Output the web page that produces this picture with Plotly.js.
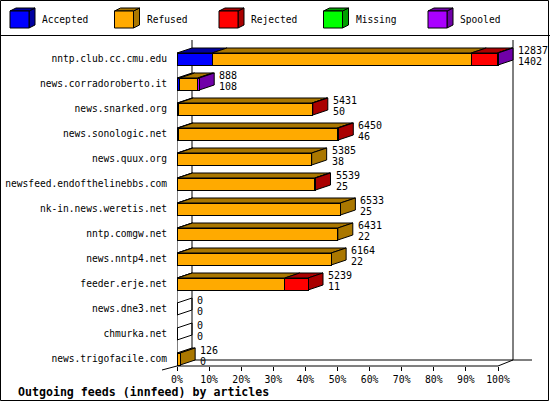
<!DOCTYPE html>
<html>
<head>
<meta charset="utf-8">
<script src="https://cdn.plot.ly/plotly-3.0.1.min.js"></script>
<style>html,body{margin:0;padding:0;background:#fff;}#chart{width:550px;height:405px;}</style>
</head>
<body>
<div id="chart"></div>
<script>
// ---- data ----
const hosts = ['nntp.club.cc.cmu.edu','news.corradoroberto.it','news.snarked.org','news.sonologic.net','news.quux.org','newsfeed.endofthelinebbs.com','nk-in.news.weretis.net','nntp.comgw.net','news.nntp4.net','feeder.erje.net','news.dne3.net','chmurka.net','news.trigofacile.com'];
const offered  = [12837, 888, 5431, 6450, 5385, 5539, 6533, 6431, 6164, 5239, 0, 0, 126];
const accepted = [1402, 108, 50, 46, 38, 25, 25, 22, 22, 11, 0, 0, 0];
const refused  = [10365, 720, 5351, 6364, 5347, 5484, 6508, 6409, 6142, 4298, 0, 0, 126];
const rejected = [1040, 0, 30, 40, 0, 30, 0, 0, 0, 930, 0, 0, 0];
const missing  = [0, 0, 0, 0, 0, 0, 0, 0, 0, 0, 0, 0, 0];
const spooled  = [30, 60, 0, 0, 0, 0, 0, 0, 0, 0, 0, 0, 0];
const seriesNames = ['Accepted','Refused','Rejected','Missing','Spooled'];
const frontColors = ['#0000FF','#FFAA00','#FF0000','#00FF00','#AA00FF'];
const darkColors  = ['#0000A0','#AA7700','#AA0000','#00A000','#7000A8'];
const xTickVals = [0,10,20,30,40,50,60,70,80,90,100];
const xTickText = ['0%','10%','20%','30%','40%','50%','60%','70%','80%','90%','100%'];
const chartTitle = 'Outgoing feeds (innfeed) by articles';

// ---- geometry ----
const W = 550, H = 405, L = 177, R = 10, T = 36, B = 39;
const plotW = W - L - R, plotH = H - T - B;
const PXPCT = 3.21;               // pixels per percent
const xMax = plotW / PXPCT;
const ROW = 25, ROW0 = 59;         // pixels per row, first row centre
const yTop = (T - ROW0) / ROW;
const yBot = yTop + plotH / ROW;
const DX = 15 / PXPCT, DY = -5 / ROW, HALF = 6 / ROW;
const yData = px => yTop + (px - T) / ROW;
const pX = px => (px - L) / plotW;
const pY = px => 1 - (px - T) / plotH;
const FONT = 'DejaVu Sans Mono';

const series = [accepted, refused, rejected, missing, spooled];
const maxTotal = Math.max(...offered);
const pct = v => v / maxTotal * 100;
const rows = hosts.map((_, i) => i);

// front faces
const traces = series.map((s, k) => ({
  type: 'bar', orientation: 'h', name: seriesNames[k],
  y: rows, x: s.map(pct), width: 2 * HALF,
  marker: {color: frontColors[k], line: {color: '#000', width: 1}},
  showlegend: false, hoverinfo: 'skip'
}));

const shapes = [];
const blackLine = {color: '#000', width: 1};
// walls / floor
shapes.push({type:'line', layer:'below', xref:'x', yref:'y', x0:DX, x1:DX, y0:yData(40), y1:yData(360), line:blackLine});
shapes.push({type:'line', layer:'below', xref:'x', yref:'y', x0:100+DX, x1:100+DX, y0:yData(40), y1:yData(360), line:blackLine});
shapes.push({type:'line', layer:'below', xref:'x', yref:'paper', x0:DX, x1:(532-L)/PXPCT, y0:pY(360), y1:pY(360), line:blackLine});
shapes.push({type:'line', layer:'below', xref:'x', yref:'paper', x0:0, x1:100, y0:pY(366), y1:pY(366), line:blackLine});
shapes.push({type:'line', layer:'below', xref:'x', yref:'paper', x0:100, x1:100+DX, y0:pY(366), y1:pY(360), line:blackLine});
shapes.push({type:'line', layer:'below', xref:'x', yref:'paper', x0:0, x1:0, y0:pY(ROW0-6), y1:pY(366), line:blackLine});
shapes.push({type:'line', layer:'below', xref:'paper', yref:'paper', x0:pX(162), x1:pX(177), y0:pY(370), y1:pY(366), line:blackLine});

// top and side faces from the data
const annotations = [];
rows.forEach(i => {
  let cum = 0, lastK = -1;
  const yt = i - HALF, yb = i + HALF;
  series.forEach((s, k) => {
    const v = pct(s[i]);
    if (v > 0) {
      const x0 = cum, x1 = cum + v;
      shapes.push({type:'path', layer:'below', xref:'x', yref:'y',
        path:`M${x0},${yt} L${x1},${yt} L${x1+DX},${yt+DY} L${x0+DX},${yt+DY} Z`,
        fillcolor: darkColors[k], line: blackLine});
      cum = x1; lastK = k;
    }
  });
  shapes.push({type:'path', layer:'below', xref:'x', yref:'y',
    path:`M${cum},${yt} L${cum+DX},${yt+DY} L${cum+DX},${yb+DY} L${cum},${yb} Z`,
    fillcolor: lastK >= 0 ? darkColors[lastK] : 'rgba(0,0,0,0)', line: blackLine});
  const lx = pct(offered[i]) + DX + 3 / PXPCT;
  annotations.push({xref:'x', yref:'y', x:lx, y:i-0.34, text:String(offered[i]), showarrow:false, xanchor:'left', yanchor:'middle', font:{family:FONT, size:10, color:'#000'}});
  annotations.push({xref:'x', yref:'y', x:lx, y:i+0.08, text:String(accepted[i]), showarrow:false, xanchor:'left', yanchor:'middle', font:{family:FONT, size:10, color:'#000'}});
});

// legend (drawn as 3D boxes)
seriesNames.forEach((name, k) => {
  const bx = 10 + k * 104.5;
  shapes.push({type:'path', xref:'paper', yref:'paper',
    path:`M${pX(bx+19)},${pY(11)} L${pX(bx+25)},${pY(8)} L${pX(bx+25)},${pY(25)} L${pX(bx+19)},${pY(28)} Z`,
    fillcolor: darkColors[k], line: blackLine});
  shapes.push({type:'path', xref:'paper', yref:'paper',
    path:`M${pX(bx)},${pY(11)} L${pX(bx+19)},${pY(11)} L${pX(bx+25)},${pY(8)} L${pX(bx+6)},${pY(8)} Z`,
    fillcolor: darkColors[k], line: blackLine});
  shapes.push({type:'rect', xref:'paper', yref:'paper',
    x0:pX(bx), x1:pX(bx+19), y0:pY(11), y1:pY(28),
    fillcolor: frontColors[k], line: blackLine});
  annotations.push({xref:'paper', yref:'paper', x:pX(bx+30), y:pY(20), text:name, showarrow:false, xanchor:'left', yanchor:'middle', font:{family:FONT, size:9.6, color:'#000'}});
});

// legend separator and outer frame
shapes.push({type:'line', xref:'paper', yref:'paper', x0:pX(0), x1:pX(550), y0:pY(35.5), y1:pY(35.5), line:blackLine});
shapes.push({type:'rect', xref:'paper', yref:'paper', x0:pX(0.5), x1:pX(548.5), y0:pY(0.5), y1:pY(400.5), line:blackLine, fillcolor:'rgba(0,0,0,0)'});

const layout = {
  width: W, height: H,
  margin: {l: L, r: R, t: T, b: B, pad: 0},
  paper_bgcolor: '#fff', plot_bgcolor: '#fff',
  barmode: 'stack', bargap: 0,
  showlegend: false,
  title: {text: chartTitle, xref:'container', yref:'container', x: 18/W, xanchor:'left', y: 1 - 392/H, yanchor:'middle',
          font:{family: FONT, size: 11.6, weight: 'bold', color: '#000'}},
  xaxis: {range: [0, xMax], tickvals: xTickVals, ticktext: xTickText, ticks: 'outside', ticklen: 4, tickcolor: '#000',
          showgrid: false, zeroline: false, showline: false, fixedrange: true,
          tickfont: {family: FONT, size: 9.8, color: '#000'}},
  yaxis: {range: [yBot, yTop], tickvals: rows, ticktext: hosts, ticks: '', showgrid: false, zeroline: false, showline: false,
          ticklabelstandoff: 9, fixedrange: true, tickfont: {family: FONT, size: 9.6, color: '#000'}},
  shapes: shapes, annotations: annotations
};
Plotly.newPlot('chart', traces, layout, {displayModeBar: false, staticPlot: true});
</script>
</body>
</html>
